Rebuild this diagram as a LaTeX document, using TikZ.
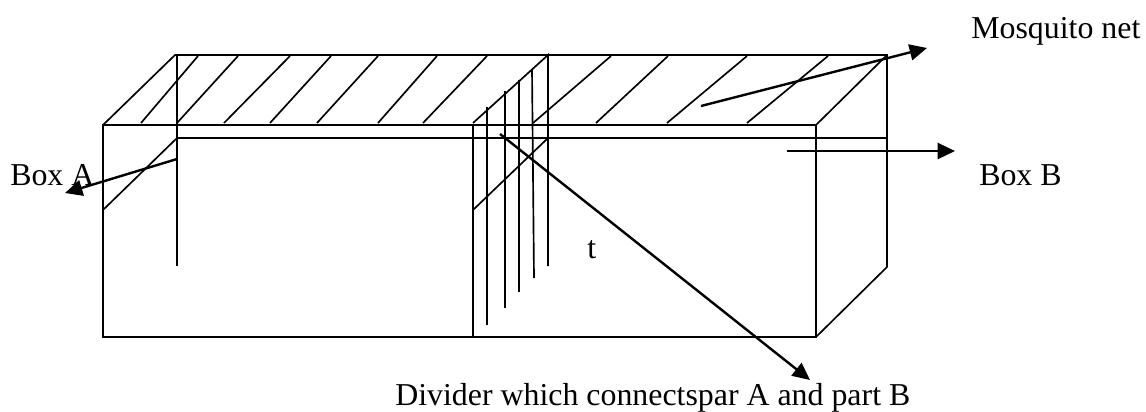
\documentclass[tikz,border=0pt]{standalone}
\usepackage{fontspec}
\setmainfont{Liberation Serif}
\usetikzlibrary{arrows.meta}
\begin{document}
\begin{tikzpicture}[
  x=0.75pt, y=-0.75pt,
  wall/.style={line width=1.25pt},
  pointer/.style={line width=1.8pt, -{Triangle[length=13pt,width=12pt]}},
  label/.style={font=\fontsize{23.9pt}{28pt}\selectfont, inner sep=0pt, anchor=base west}
]
\useasboundingbox (0,0) rectangle (1146,411);
% box
\draw[wall] (103,125) rectangle (816,337);
\draw[wall] (103,125) -- (175,55) -- (887,55) -- (887,267) -- (816,337);
\draw[wall] (816,125) -- (887,55);
\draw[wall] (177,138) -- (887,138);
\draw[wall] (177,55) -- (177,266);
\draw[wall] (103,210) -- (177,138);
% net
\draw[wall] (141,123) -- (198,56);
\draw[wall] (177,123) -- (238,56);
\draw[wall] (224,123) -- (290,56);
\draw[wall] (270,123) -- (331,56);
\draw[wall] (317,123) -- (378,56);
\draw[wall] (378,123) -- (437,56);
\draw[wall] (423,123) -- (487,56);
\draw[wall] (533,123) -- (611,56);
\draw[wall] (596,123) -- (668,56);
\draw[wall] (667,123) -- (747,56);
\draw[wall] (747,123) -- (828,56);
% divider
\draw[wall] (473,125) -- (473,337);
\draw[wall] (473,123) -- (548,55) -- (548,266);
\draw[wall] (473,210) -- (548,138);
\draw[wall] (487,107) -- (487,325);
\draw[wall] (505,91) -- (505,308);
\draw[wall] (519,80) -- (519,292);
\draw[wall] (532,69) -- (534,278);
% labels
\node[label] (net) at (971,38) {Mosquito net};
\node[label] (boxa) at (10,185) {Box A};
\node[label] (boxb) at (979,185) {Box B};
\node[label] (tee) at (587,258) {t};
\node[label] (divider) at (395,405) {Divider which connectspar A and part B};
% pointers
\coordinate (netstart) at (701,106);
\coordinate (nettip) at (927,48);
\coordinate (astart) at (177,159);
\coordinate (atip) at (65,193);
\coordinate (bstart) at (787,151);
\coordinate (btip) at (955,151);
\coordinate (dstart) at (500,134);
\coordinate (dtip) at (810,380);
\draw[pointer] (netstart) -- (nettip);
\draw[pointer] (astart) -- (atip);
\draw[pointer] (bstart) -- (btip);
\draw[pointer] (dstart) -- (dtip);
\end{tikzpicture}
\end{document}
